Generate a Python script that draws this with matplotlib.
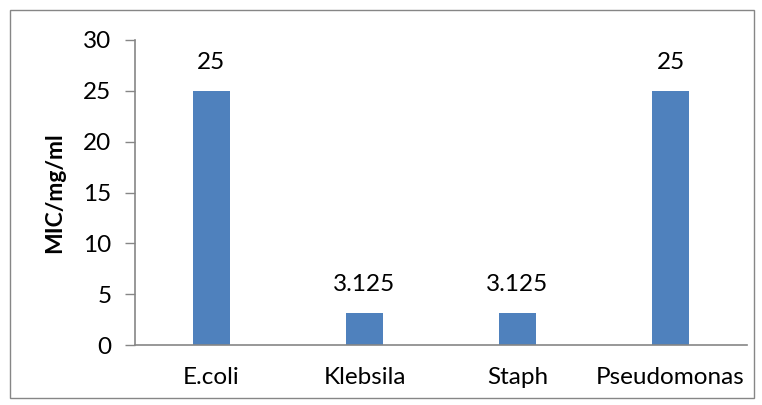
import matplotlib
matplotlib.use("Agg")
import matplotlib.pyplot as plt
from matplotlib.patches import Rectangle

categories = ["E.coli", "Klebsila", "Staph", "Pseudomonas"]
values = [25, 3.125, 3.125, 25]
labels = ["25", "3.125", "3.125", "25"]
yticks = [0, 5, 10, 15, 20, 25, 30]

plt.rcParams['font.family'] = ['Lato', 'DejaVu Sans']

fig = plt.figure(figsize=(7.62, 4.05), dpi=100)
W, H = 762, 405
ax = fig.add_axes([135 / W, 1 - 345 / H, (747 - 135) / W, (345 - 40) / H])

fs = 17.5
x = range(len(categories))
ax.bar(x, values, width=0.24, color="#4F81BD", zorder=2)
for xi, v, lab in zip(x, values, labels):
    ax.text(xi, v + 1.8, lab, ha="center", va="bottom", fontsize=fs, color="black")

ax.set_xlim(-0.5, len(categories) - 0.5)
ax.set_ylim(0, 30)
ax.set_yticks(yticks)
ax.set_xticks(list(x))
ax.set_xticklabels(categories, fontsize=fs)
ax.tick_params(axis="y", labelsize=fs, length=7, width=1, color="#868686", pad=10)
ax.tick_params(axis="x", length=0, pad=16)
for s in ["top", "right"]:
    ax.spines[s].set_visible(False)
for s in ["left", "bottom"]:
    ax.spines[s].set_color("#868686")
    ax.spines[s].set_linewidth(1.2)
ax.set_ylabel("MIC/mg/ml", fontsize=16.5, fontweight="bold", labelpad=13)

fig.patches.append(Rectangle((10 / W, 1 - 398 / H), (754 - 10) / W, (398 - 10) / H,
                             transform=fig.transFigure, fill=False,
                             edgecolor="#868686", linewidth=1))
fig.savefig("out.png", dpi=100)
